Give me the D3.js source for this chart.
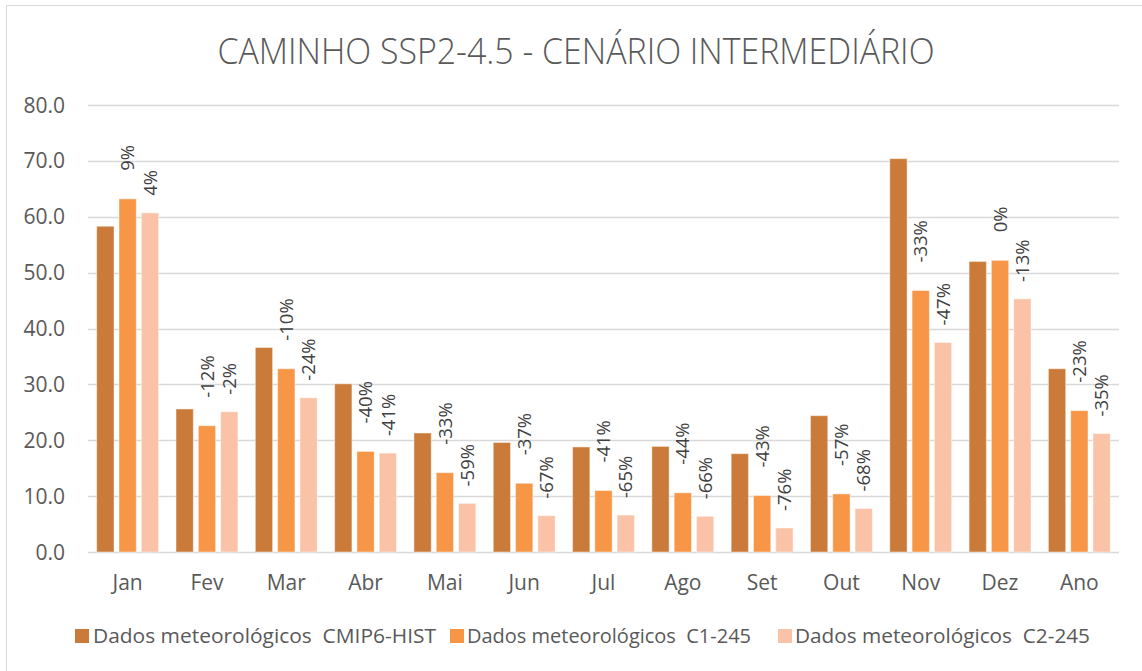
<!DOCTYPE html>
<html>
<head>
<meta charset="utf-8">
<script src="https://cdn.jsdelivr.net/npm/d3@7"></script>
<style>
    html, body { margin: 0; padding: 0; background: #fff; }
    svg { display: block; font-family: "Open Sans", "Noto Sans", sans-serif; }
    text { white-space: pre; }
</style>
</head>
<body>
<div id="chart"></div>
<script>
document.addEventListener("DOMContentLoaded", function () {

    const meses = ["Jan", "Fev", "Mar", "Abr", "Mai", "Jun", "Jul", "Ago", "Set", "Out", "Nov", "Dez", "Ano"];
    const series = ["Dados meteorológicos  CMIP6-HIST", "Dados meteorológicos  C1-245", "Dados meteorológicos  C2-245"];
    const hist = [58.3, 25.6, 36.6, 30.1, 21.3, 19.6, 18.8, 18.9, 17.6, 24.4, 70.4, 52.0, 32.8];
    const c1 = [63.2, 22.6, 32.8, 18.0, 14.2, 12.3, 11.0, 10.6, 10.1, 10.4, 46.8, 52.2, 25.3];
    const c2 = [60.7, 25.1, 27.6, 17.7, 8.7, 6.5, 6.6, 6.4, 4.3, 7.8, 37.5, 45.3, 21.2];
    const pctC1 = ["9%", "-12%", "-10%", "-40%", "-33%", "-37%", "-41%", "-44%", "-43%", "-57%", "-33%", "0%", "-23%"];
    const pctC2 = ["4%", "-2%", "-24%", "-41%", "-59%", "-67%", "-65%", "-66%", "-76%", "-68%", "-47%", "-13%", "-35%"];
    const yTicks = [0, 10, 20, 30, 40, 50, 60, 70, 80];

    const W = 1142, H = 671;
    const cores = ["#CB7B39", "#F79646", "#FAC3A8"];
    const values = [hist, c1, c2];

    const svg = d3.select("#chart").append("svg")
        .attr("width", W).attr("height", H);

    svg.append("rect")
        .attr("x", 6.5).attr("y", 5.5)
        .attr("width", W).attr("height", H)
        .attr("fill", "#fff").attr("stroke", "#D9D9D9");

    // titulo
    svg.append("text")
        .attr("x", 576).attr("y", 64)
        .attr("text-anchor", "middle")
        .attr("font-size", 36).attr("font-weight", 300)
        .attr("fill", "#595959")
        .attr("textLength", 717).attr("lengthAdjust", "spacingAndGlyphs")
        .text("CAMINHO SSP2-4.5 - CENÁRIO INTERMEDIÁRIO");

    const x = d3.scaleBand().domain(meses).range([88, 1119]).padding(0);
    const xs = d3.scaleBand().domain(d3.range(3)).range([-33.45, 33.45])
        .paddingInner(0.224).paddingOuter(0.112);
    const y = d3.scaleLinear().domain([0, 80]).range([552, 105]);

    // grade
    svg.append("g").selectAll("line").data(yTicks).join("line")
        .attr("x1", 88).attr("x2", 1119)
        .attr("y1", d => Math.round(y(d)) + 0.5).attr("y2", d => Math.round(y(d)) + 0.5)
        .attr("stroke", "#D9D9D9").attr("stroke-width", 1.5);

    svg.append("g").selectAll("text").data(yTicks).join("text")
        .attr("x", 65).attr("y", d => y(d))
        .attr("dy", "0.36em")
        .attr("text-anchor", "end")
        .attr("font-size", 21).attr("fill", "#595959")
        .text(d => d.toFixed(1));

    // barras
    values.forEach(function (vals, s) {
        svg.append("g").selectAll("rect").data(vals).join("rect")
            .attr("x", (d, i) => x(meses[i]) + x.bandwidth() / 2 + xs(s))
            .attr("width", xs.bandwidth())
            .attr("y", d => y(d))
            .attr("height", d => y(0) - y(d))
            .attr("fill", cores[s])
            .attr("stroke", "#fff").attr("stroke-opacity", 0.45).attr("stroke-width", 1);
    });

    // rotulos percentuais
    let rotulos = function (vals, labels, s, gap) {
        svg.append("g").selectAll("text").data(vals).join("text")
            .attr("transform", (d, i) => {
                let cx = x(meses[i]) + x.bandwidth() / 2 + xs(s) + xs.bandwidth() / 2;
                return "translate(" + cx + "," + (y(d) - gap) + ") rotate(-90)";
            })
            .attr("dy", "0.36em")
            .attr("font-size", 18.5).attr("fill", "#404040")
            .text((d, i) => labels[i]);
    };
    rotulos(c1, pctC1, 1, 28);
    rotulos(c2, pctC2, 2, 17);

    // eixo x
    svg.append("g").selectAll("text").data(meses).join("text")
        .attr("x", d => x(d) + x.bandwidth() / 2).attr("y", 590)
        .attr("text-anchor", "middle")
        .attr("font-size", 21).attr("fill", "#595959")
        .text(d => d);

    // legenda
    const leg = [
        {sx: 75, tx: 93, w: 343},
        {sx: 450, tx: 467, w: 284},
        {sx: 778, tx: 795, w: 295}
    ];
    series.forEach(function (nome, s) {
        svg.append("rect")
            .attr("x", leg[s].sx).attr("y", 629)
            .attr("width", 14).attr("height", 14)
            .attr("fill", cores[s]);
        svg.append("text")
            .attr("x", leg[s].tx).attr("y", 643)
            .attr("font-size", 20).attr("fill", "#595959")
            .attr("textLength", leg[s].w).attr("lengthAdjust", "spacingAndGlyphs")
            .text(nome);
    });

});
</script>
</body>
</html>
